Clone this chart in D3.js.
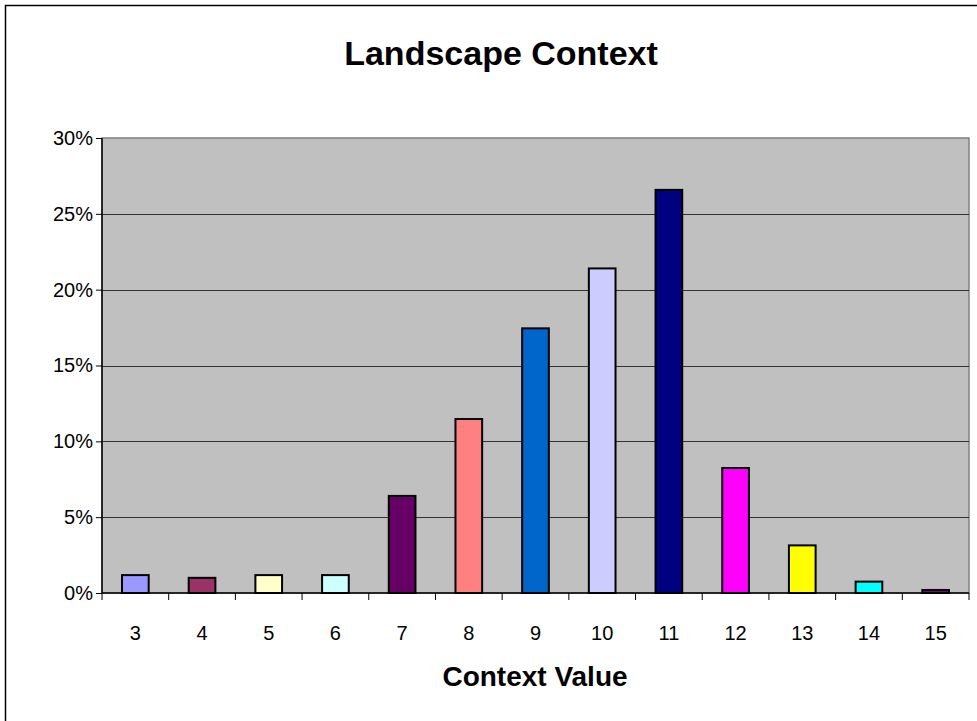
<!DOCTYPE html>
<html>
<head>
<meta charset="utf-8">
<script src="https://cdn.jsdelivr.net/npm/d3@7/dist/d3.min.js"></script>
<style>
  html, body { margin: 0; padding: 0; background: #fff; }
  svg { display: block; font-family: "Liberation Sans", Arial, sans-serif; }
</style>
</head>
<body>
<svg id="chart" width="977" height="721"></svg>
<script>
// Share of sites by landscape context value
const categories = ["3", "4", "5", "6", "7", "8", "9", "10", "11", "12", "13", "14", "15"];
const shares = [0.0118, 0.0100, 0.0118, 0.0118, 0.0640, 0.1147, 0.1745, 0.2140, 0.2658, 0.0824, 0.0314, 0.0075, 0.0020];
const barColors = ["#9999FF", "#993366", "#FFFFCC", "#CCFFFF", "#660066", "#FF8080", "#0066CC",
                   "#CCCCFF", "#000080", "#FF00FF", "#FFFF00", "#00FFFF", "#800080"];
const yTicks = [0, 0.05, 0.10, 0.15, 0.20, 0.25, 0.30];
const titleText = "Landscape Context";
const xTitleText = "Context Value";

const svg = d3.select("#chart");
const plot = { left: 102, top: 138, right: 969, bottom: 593 };
const FONT = "'Liberation Sans', Arial, sans-serif";

function label(str, px, py, size, weight, anchor) {
  svg.append("text")
    .attr("x", px).attr("y", py)
    .attr("text-anchor", anchor)
    .attr("font-family", FONT)
    .attr("font-size", size)
    .attr("font-weight", weight)
    .attr("fill", "#000")
    .text(str);
}

// outer chart frame
svg.append("rect")
  .attr("x", 5.5).attr("y", 5.5)
  .attr("width", 990).attr("height", 740)
  .attr("fill", "#fff").attr("stroke", "#000").attr("stroke-width", 1.5);

const x = d3.scaleBand().domain(categories).range([plot.left, plot.right]).paddingInner(0.6).paddingOuter(0.3);
const xTick = d3.scaleBand().domain(categories).range([plot.left, plot.right]);
const y = d3.scaleLinear().domain([0, 0.30]).range([plot.bottom, plot.top]);

// plot background
svg.append("rect")
  .attr("x", plot.left).attr("y", plot.top)
  .attr("width", plot.right - plot.left).attr("height", plot.bottom - plot.top)
  .attr("fill", "#C0C0C0").attr("stroke", "#808080").attr("stroke-width", 1.5);

// horizontal gridlines
svg.append("g").selectAll("line")
  .data(yTicks.filter(t => t > 0 && t < 0.30))
  .join("line")
  .attr("x1", plot.left).attr("x2", plot.right)
  .attr("y1", d => Math.round(y(d)) + 0.5).attr("y2", d => Math.round(y(d)) + 0.5)
  .attr("stroke", "#333").attr("stroke-width", 1);

// bars
svg.append("g").selectAll("rect")
  .data(categories.map((c, i) => ({ c, v: shares[i], col: barColors[i] })))
  .join("rect")
  .attr("x", d => x(d.c))
  .attr("width", x.bandwidth())
  .attr("y", d => y(d.v))
  .attr("height", d => y(0) - y(d.v))
  .attr("fill", d => d.col)
  .attr("stroke", "#000").attr("stroke-width", 2);

// y axis
const yAxis = d3.axisLeft(y).tickValues(yTicks).tickFormat(d3.format(".0%")).tickSize(6).tickPadding(3);
const gy = svg.append("g").attr("transform", `translate(${plot.left},0)`).call(yAxis);
gy.attr("font-family", FONT).attr("font-size", 20);
gy.select(".domain").attr("stroke", "#000").attr("stroke-width", 1.5).attr("d", `M0,${plot.top}V${plot.bottom}`);
gy.selectAll(".tick line").attr("stroke", "#000");
gy.selectAll(".tick text").attr("fill", "#000");

// x axis with ticks on category boundaries
const gx = svg.append("g").attr("transform", `translate(0,${plot.bottom})`);
gx.append("line").attr("x1", plot.left).attr("x2", plot.right).attr("y1", 0).attr("y2", 0)
  .attr("stroke", "#000").attr("stroke-width", 1.5);
gx.selectAll("line.tk")
  .data(categories.map(c => xTick(c)).concat([plot.right]))
  .join("line").attr("class", "tk")
  .attr("x1", d => d).attr("x2", d => d).attr("y1", 0).attr("y2", 7)
  .attr("stroke", "#000");
categories.forEach(c => label(c, xTick(c) + xTick.bandwidth() / 2, 640, 20, "normal", "middle"));

// titles
label(titleText, 501, 65, 34, "bold", "middle");
label(xTitleText, 535, 686, 28, "bold", "middle");
</script>
</body>
</html>
